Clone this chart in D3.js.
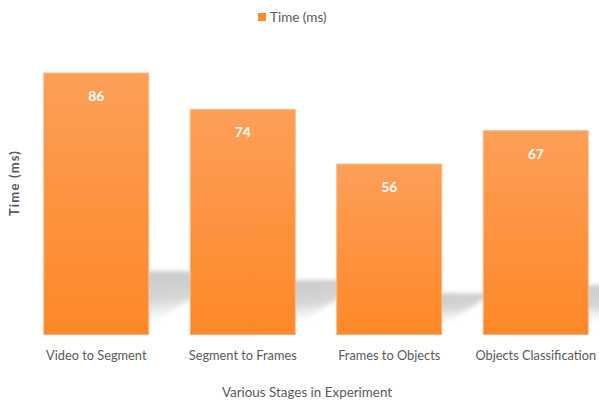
<!DOCTYPE html>
<html>
<head>
<meta charset="utf-8">
<script src="https://cdn.jsdelivr.net/npm/d3@7"></script>
<style>
  body { margin: 0; background: #fff; }
  text { font-family: Lato, "Open Sans", sans-serif; }
</style>
</head>
<body>
<main></main>
<script>
const categories = ["Video to Segment", "Segment to Frames", "Frames to Objects", "Objects Classification"];
const values = [86, 74, 56, 67];
const seriesName = "Time (ms)";
const xTitle = "Various Stages in Experiment";
const yTitle = "Time (ms)";

const w = 599;
const h = 403;
const baseY = 334;

const svg = d3
  .select("main")
  .append("svg")
  .attr("width", w)
  .attr("height", h);

const defs = svg.append("defs");

const barGrad = defs
  .append("linearGradient")
  .attr("id", "barGrad")
  .attr("x1", 0).attr("y1", 0)
  .attr("x2", 0).attr("y2", 1);
barGrad.append("stop").attr("offset", "0%").attr("stop-color", "#fd9f58");
barGrad.append("stop").attr("offset", "100%").attr("stop-color", "#fe8828");

const shadowGrad = defs
  .append("linearGradient")
  .attr("id", "shadowGrad")
  .attr("x1", 0.3).attr("y1", 0)
  .attr("x2", 0.75).attr("y2", 1);
shadowGrad.append("stop").attr("offset", "0%").attr("stop-color", "#c4c4c4").attr("stop-opacity", 0.95);
shadowGrad.append("stop").attr("offset", "55%").attr("stop-color", "#c8c8c8").attr("stop-opacity", 0.75);
shadowGrad.append("stop").attr("offset", "100%").attr("stop-color", "#ffffff").attr("stop-opacity", 0);

defs
  .append("filter")
  .attr("id", "blur")
  .attr("x", "-20%").attr("y", "-20%")
  .attr("width", "140%").attr("height", "140%")
  .append("feGaussianBlur")
  .attr("stdDeviation", 2.2);

const x = d3
  .scaleBand()
  .domain(categories)
  .range([23, 609])
  .paddingInner(0.283)
  .paddingOuter(0.1415);

const y = d3.scaleLinear().domain([0, 100]).range([baseY, 30.5]);

// perspective shadows behind the bars
svg
  .append("g")
  .selectAll("path")
  .data(values)
  .join("path")
  .attr("d", (d, i) => {
    const x0 = x(categories[i]);
    const x1 = x0 + x.bandwidth();
    const sh = (baseY - y(d)) * 0.24;
    const bot = baseY - 8;
    const dx = (bot - (baseY - sh)) / 0.63;
    return `M${x0},${bot}L${x1},${bot}L${x1 + dx},${baseY - sh}L${x0 + dx},${baseY - sh}Z`;
  })
  .attr("fill", "url(#shadowGrad)")
  .attr("filter", "url(#blur)");

// bars
svg
  .append("g")
  .selectAll("rect")
  .data(values)
  .join("rect")
  .attr("x", (d, i) => x(categories[i]))
  .attr("y", (d) => y(d))
  .attr("width", x.bandwidth())
  .attr("height", (d) => baseY - y(d))
  .attr("fill", "url(#barGrad)")
  .attr("stroke", "#fdba88")
  .attr("stroke-width", 1);

svg
  .append("g")
  .selectAll("line")
  .data(values)
  .join("line")
  .attr("x1", (d, i) => x(categories[i]))
  .attr("x2", (d, i) => x(categories[i]) + x.bandwidth())
  .attr("y1", baseY)
  .attr("y2", baseY)
  .attr("stroke", "#f27813")
  .attr("stroke-width", 1.2);

// value labels
svg
  .append("g")
  .selectAll("text")
  .data(values)
  .join("text")
  .attr("x", (d, i) => x(categories[i]) + x.bandwidth() / 2)
  .attr("y", (d) => y(d) + 28)
  .attr("text-anchor", "middle")
  .attr("fill", "#ffffff")
  .attr("font-size", 14)
  .attr("font-weight", "bold")
  .text((d) => d);

// category labels
svg
  .append("g")
  .selectAll("text")
  .data(categories)
  .join("text")
  .attr("x", (d) => x(d) + x.bandwidth() / 2)
  .attr("y", 360)
  .attr("text-anchor", "middle")
  .attr("fill", "#595959")
  .attr("font-size", 12.8)
  .text((d) => d);

// axis titles
svg
  .append("text")
  .attr("x", 307)
  .attr("y", 397)
  .attr("text-anchor", "middle")
  .attr("fill", "#595959")
  .attr("font-size", 13.4)
  .text(xTitle);

svg
  .append("text")
  .attr("transform", "translate(19, 183) rotate(-90)")
  .attr("text-anchor", "middle")
  .attr("fill", "#595959")
  .attr("font-size", 13)
  .attr("font-weight", "bold")
  .attr("letter-spacing", 1.2)
  .text(yTitle);

// legend
const legend = svg.append("g").attr("transform", "translate(258, 13)");
legend
  .append("rect")
  .attr("width", 8)
  .attr("height", 8)
  .attr("fill", "#fe8a2c");
legend
  .append("text")
  .attr("x", 12)
  .attr("y", 8.5)
  .attr("fill", "#595959")
  .attr("font-size", 13.5)
  .text(seriesName);
</script>
</body>
</html>
